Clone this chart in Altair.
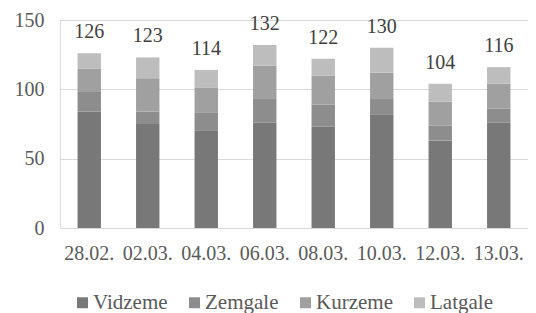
import altair as alt
import pandas as pd

dates = ["28.02.", "02.03.", "04.03.", "06.03.", "08.03.", "10.03.", "12.03.", "13.03."]
regions = ["Vidzeme", "Zemgale", "Kurzeme", "Latgale"]
vidzeme = [84, 75, 70, 76, 73, 82, 63, 76]
zemgale = [14, 9, 13, 17, 16, 11, 11, 10]
kurzeme = [17, 24, 18, 24, 21, 19, 17, 18]
latgale = [11, 15, 13, 15, 12, 18, 13, 12]
totals = [126, 123, 114, 132, 122, 130, 104, 116]
colors = ["#787878", "#8d8d8d", "#a0a0a0", "#bdbdbd"]

rows = []
for i, d in enumerate(dates):
    for j, (r, s) in enumerate(zip(regions, [vidzeme, zemgale, kurzeme, latgale])):
        rows.append({"date": d, "region": r, "value": s[i], "ord": j})
df = pd.DataFrame(rows)
tdf = pd.DataFrame({"date": dates, "total": totals})

FONT = "'Times New Roman', 'Liberation Serif', serif"
yscale = alt.Scale(domain=[0, 150], nice=False)
x = alt.X("date:N", sort=dates, title=None,
          scale=alt.Scale(paddingInner=0.6, paddingOuter=0.3),
          axis=alt.Axis(labelAngle=0, ticks=False, domain=False, labelPadding=15,
                        labelFontSize=20, labelFont=FONT, labelColor="#595959"))

bars = alt.Chart(df).mark_bar().encode(
    x=x,
    y=alt.Y("value:Q", stack="zero", title=None, scale=yscale,
            axis=alt.Axis(values=[0, 50, 100, 150], ticks=False, domain=False,
                          labelPadding=16, labelFontSize=20, labelFont=FONT,
                          labelColor="#595959", gridColor="#d9d9d9", gridWidth=1)),
    color=alt.Color("region:N", sort=regions,
                    scale=alt.Scale(domain=regions, range=colors),
                    legend=alt.Legend(title=None, orient="none", direction="horizontal",
                                      legendX=12, legendY=272, symbolType="square",
                                      symbolSize=120, symbolStrokeWidth=0,
                                      labelFontSize=21, labelFont=FONT,
                                      labelColor="#595959", columnPadding=16,
                                      labelOffset=0, padding=0)),
    order=alt.Order("ord:Q"),
)

labels = alt.Chart(tdf).mark_text(baseline="bottom", dy=-11, fontSize=20, font=FONT,
                                  color="#404040").encode(
    x=alt.X("date:N", sort=dates),
    y=alt.Y("total:Q", scale=yscale),
    text="total:Q",
)

chart = (bars + labels).properties(
    width=468, height=208,
    autosize=alt.AutoSizeParams(type="none"),
    padding={"left": 52, "top": 12, "right": 0, "bottom": 85},
).configure_view(stroke=None).configure(background="white")

chart.save("out.html", embed_options={"renderer": "svg", "actions": False})
